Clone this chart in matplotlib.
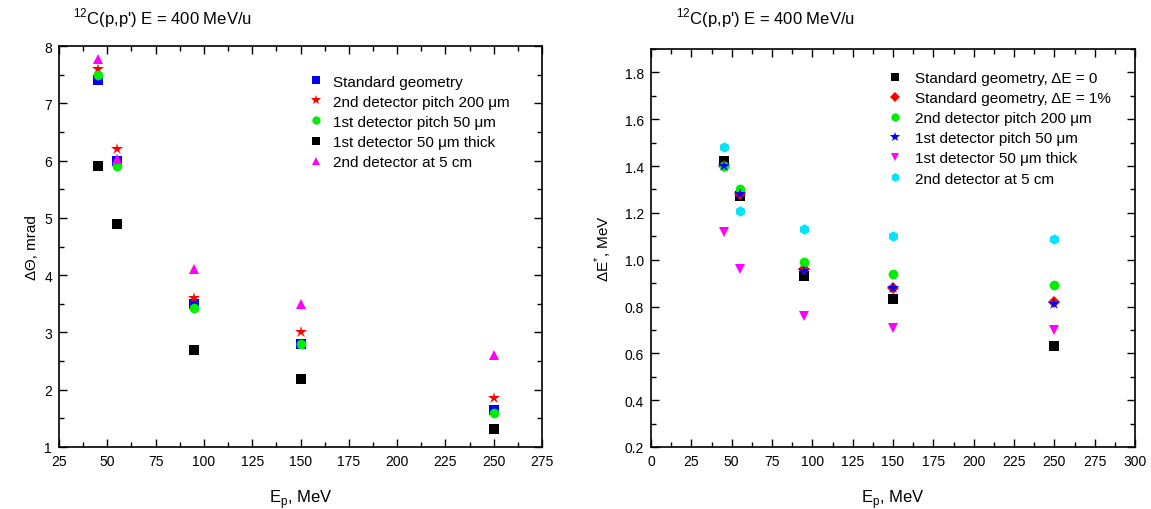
import matplotlib
matplotlib.use('Agg')
import matplotlib.pyplot as plt
from matplotlib.ticker import MultipleLocator, FormatStrFormatter

plt.rcParams['font.family'] = ['Liberation Sans', 'DejaVu Sans']
plt.rcParams['mathtext.fontset'] = 'custom'
plt.rcParams['mathtext.rm'] = 'Liberation Sans'

# beam energies, MeV
energy = [45, 55, 95, 150, 250]

# angular resolution, mrad
theta_standard = [7.4, 6.0, 3.5, 2.8, 1.65]
theta_pitch200 = [7.6, 6.2, 3.6, 3.0, 1.85]
theta_pitch50 = [7.5, 5.9, 3.43, 2.8, 1.6]
theta_thick50 = [5.9, 4.9, 2.7, 2.18, 1.32]
theta_at5cm = [7.78, 6.02, 4.1, 3.5, 2.6]

# excitation energy resolution, MeV
de_standard0 = [1.42, 1.27, 0.93, 0.83, 0.63]
de_standard1 = [1.40, 1.28, 0.96, 0.88, 0.82]
de_pitch200 = [1.40, 1.30, 0.99, 0.94, 0.89]
de_pitch50 = [1.40, 1.28, 0.95, 0.88, 0.81]
de_thick50 = [1.12, 0.96, 0.76, 0.71, 0.70]
de_at5cm = [1.48, 1.21, 1.13, 1.10, 1.09]

left_series = [
    (theta_standard, 's', '#0000ff', 6.5, 'Standard geometry'),
    (theta_pitch200, '*', '#ff0000', 9, '2nd detector pitch 200 μm'),
    (theta_pitch50, 'o', '#00ee00', 7, '1st detector pitch 50 μm'),
    (theta_thick50, 's', '#000000', 6.5, '1st detector 50 μm thick'),
    (theta_at5cm, '^', '#ff00ff', 7.5, '2nd detector at 5 cm'),
]

right_series = [
    (de_standard0, 's', '#000000', 6.5, 'Standard geometry, ΔE = 0'),
    (de_standard1, 'D', '#ff0000', 6, 'Standard geometry, ΔE = 1%'),
    (de_pitch200, 'o', '#00ee00', 7, '2nd detector pitch 200 μm'),
    (de_pitch50, '*', '#0000ff', 9, '1st detector pitch 50 μm'),
    (de_thick50, 'v', '#ff00ff', 7.5, '1st detector 50 μm thick'),
    (de_at5cm, 'h', '#00e5ff', 7.5, '2nd detector at 5 cm'),
]

fig = plt.figure(figsize=(11.51, 5.10), dpi=100)
ax1 = fig.add_axes([0.0513, 0.1216, 0.4196, 0.7862])
ax2 = fig.add_axes([0.5656, 0.1216, 0.4205, 0.7804])


def style_axes(ax):
    ax.tick_params(which='both', direction='in', top=True, right=True,
                   labelsize=10, width=1, pad=5)
    ax.tick_params(which='major', length=6)
    ax.tick_params(which='minor', length=3.5)
    for sp in ax.spines.values():
        sp.set_linewidth(1.2)


for vals, m, c, ms, lab in left_series:
    ax1.plot(energy, vals, linestyle='none', marker=m, color=c, markersize=ms,
             markeredgewidth=0, label=lab)
ax1.set_xlim(25, 275)
ax1.set_ylim(1, 8)
ax1.xaxis.set_major_locator(MultipleLocator(25))
ax1.xaxis.set_minor_locator(MultipleLocator(12.5))
ax1.yaxis.set_major_locator(MultipleLocator(1))
ax1.yaxis.set_minor_locator(MultipleLocator(0.5))
style_axes(ax1)
ax1.set_xlabel(r'E$_{\rm p}$, MeV', fontsize=12, labelpad=14)
ax1.set_ylabel('ΔΘ, mrad', fontsize=11, labelpad=4)
ax1.legend(loc='upper left', bbox_to_anchor=(0.5, 0.944), frameon=False,
           fontsize=11, markerscale=0.85, handletextpad=0.55, labelspacing=0.4,
           handlelength=1.2, borderaxespad=0)

for vals, m, c, ms, lab in right_series:
    ax2.plot(energy, vals, linestyle='none', marker=m, color=c, markersize=ms,
             markeredgewidth=0, label=lab)
ax2.set_xlim(0, 300)
ax2.set_ylim(0.2, 1.9)
ax2.xaxis.set_major_locator(MultipleLocator(25))
ax2.xaxis.set_minor_locator(MultipleLocator(12.5))
ax2.yaxis.set_major_locator(MultipleLocator(0.2))
ax2.yaxis.set_minor_locator(MultipleLocator(0.1))
ax2.yaxis.set_major_formatter(FormatStrFormatter('%.1f'))
style_axes(ax2)
ax2.set_xlabel(r'E$_{\rm p}$, MeV', fontsize=12, labelpad=14)
ax2.set_ylabel(r'ΔE$^{*}$, MeV', fontsize=11, labelpad=8)
ax2.legend(loc='upper left', bbox_to_anchor=(0.472, 0.96), frameon=False,
           fontsize=11, markerscale=0.85, handletextpad=0.7, labelspacing=0.4,
           handlelength=1.2, borderaxespad=0)

title = r"$^{12}$C(p,p') E = 400 MeV/u"
fig.text(73 / 1151, 1 - 18 / 510, title, fontsize=12, va='center')
fig.text(676 / 1151, 1 - 18 / 510, title, fontsize=12, va='center')

fig.savefig('out.png', dpi=100)
